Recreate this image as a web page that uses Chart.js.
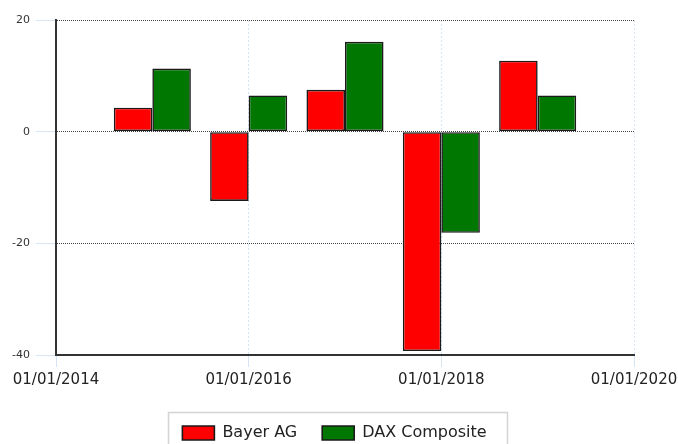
<!DOCTYPE html>
<html>
<head>
<meta charset="utf-8">
<script src="https://cdn.jsdelivr.net/npm/chart.js@4/dist/chart.umd.min.js"></script>
<style>
html,body{margin:0;padding:0;background:#fff;}
#wrap{width:678px;height:444px;position:relative;}
</style>
</head>
<body>
<div id="wrap"><canvas id="c" width="678" height="444"></canvas></div>
<script>
const periodYears = [2015, 2016, 2017, 2018, 2019];
const bayerValues = [4.3, -12.4, 7.5, -39.3, 12.7];
const daxValues = [11.3, 6.5, 16.1, -18.1, 6.5];
const xTickLabels = ['01/01/2014', '01/01/2016', '01/01/2018', '01/01/2020'];
const yTickValues = [20, 0, -20, -40];
const seriesNames = ['Bayer AG', 'DAX Composite'];

const toPoints = vals => periodYears.map((yr, i) => ({x: yr, y: vals[i]}));

const legendPlace = {
  id: 'legendPlace',
  afterLayout(chart) {
    const lg = chart.legend;
    if (!lg) return;
    lg.left = 0;
    lg.right = chart.width - 9;
    lg.width = lg.right - lg.left;
  },
  afterDraw(chart) {
    const lg = chart.legend;
    if (!lg || !lg.legendHitBoxes || !lg.legendHitBoxes.length) return;
    const hb = lg.legendHitBoxes;
    const l = hb[0].left - 14;
    const r = hb[hb.length - 1].left + hb[hb.length - 1].width + 21;
    const t = lg.top + 12;
    const ctx = chart.ctx;
    ctx.save();
    ctx.strokeStyle = '#d4d4d4';
    ctx.lineWidth = 1.5;
    ctx.strokeRect(Math.round(l) + 0.5, Math.round(t) + 0.5, Math.round(r - l), 60);
    ctx.restore();
  }
};

new Chart(document.getElementById('c'), {
  type: 'bar',
  data: {
    datasets: [
      {label: seriesNames[0], data: toPoints(bayerValues), backgroundColor: '#ff0000', borderColor: '#1a1a1a', borderWidth: 1.6, borderSkipped: false, categoryPercentage: 0.8, barPercentage: 1.0},
      {label: seriesNames[1], data: toPoints(daxValues), backgroundColor: '#007700', borderColor: '#1a1a1a', borderWidth: 1.6, borderSkipped: false, categoryPercentage: 0.8, barPercentage: 1.0}
    ]
  },
  options: {
    responsive: false,
    animation: false,
    layout: {padding: {top: 20, right: 44, left: 0, bottom: 0}},
    plugins: {
      tooltip: {enabled: false},
      legend: {
        position: 'bottom',
        maxHeight: 44,
        labels: {
          boxWidth: 32,
          boxHeight: 14,
          padding: 25,
          color: '#222',
          font: {family: 'DejaVu Sans', size: 16}
        }
      }
    },
    scales: {
      x: {
        type: 'linear',
        min: 2014,
        max: 2020,
        offset: false,
        afterBuildTicks(scale) {
          scale.ticks = xTickLabels.map((_, i) => ({value: 2014 + 2 * i}));
        },
        afterFit(scale) {
          scale.height = 45;
          scale.paddingRight = 0;
          scale.paddingLeft = 0;
        },
        ticks: {
          autoSkip: false,
          maxRotation: 0,
          padding: 4,
          color: '#222',
          font: {family: 'DejaVu Sans', size: 15},
          callback: (v, i) => xTickLabels[i]
        },
        grid: {
          offset: false,
          color: c => (c.tick && c.tick.value === 2014) ? 'rgba(0,0,0,0)' : '#d6e4f4',
          tickColor: '#d6e4f4',
          tickLength: 12,
          tickBorderDash: [],
          lineWidth: 1,
          drawOnChartArea: true
        },
        border: {display: true, color: '#333', width: 2, dash: [2, 2]}
      },
      y: {
        min: -40,
        max: 20,
        afterBuildTicks(scale) {
          scale.ticks = yTickValues.slice().reverse().map(v => ({value: v}));
        },
        afterFit(scale) { scale.width = 56; },
        ticks: {
          padding: 6,
          color: '#333',
          font: {family: 'DejaVu Sans', size: 11}
        },
        grid: {
          color: c => (c.tick && c.tick.value === -40) ? 'rgba(0,0,0,0)' : '#444',
          tickColor: '#d6e4f4',
          tickLength: 20,
          tickBorderDash: [],
          lineWidth: 1
        },
        border: {display: true, color: '#333', width: 2, dash: [1, 1]}
      }
    }
  },
  plugins: [legendPlace]
});
</script>
</body>
</html>
